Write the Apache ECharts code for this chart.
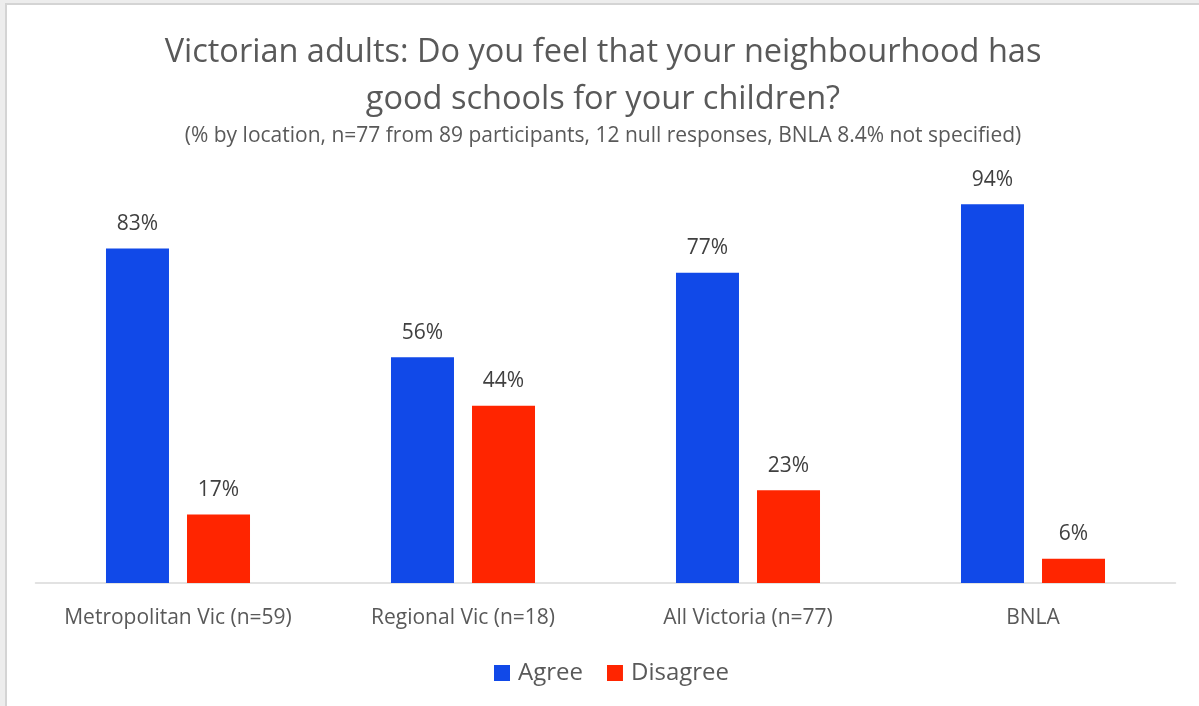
<!DOCTYPE html>
<html>
<head>
<meta charset="utf-8">
<script src="https://cdn.jsdelivr.net/npm/echarts@6/dist/echarts.min.js"></script>
<style>
  html, body { margin: 0; padding: 0; background: #ededed; overflow: hidden; }
  #frame {
    position: absolute; left: 5px; top: 3px;
    width: 1194px; height: 703px;
    border-left: 2px solid #d4d4d4; border-top: 2px solid #d4d4d4;
    background: #ffffff; box-sizing: border-box;
  }
  #chart { width: 1192px; height: 701px; }
</style>
</head>
<body>
<div id="frame"><div id="chart"></div></div>
<script>
// Survey responses by location (percent)
const categories = ['Metropolitan Vic (n=59)', 'Regional Vic (n=18)', 'All Victoria (n=77)', 'BNLA'];
const agree = [83, 56, 77, 94];
const disagree = [17, 44, 23, 6];

const titleText = 'Victorian adults: Do you feel that your neighbourhood has\ngood schools for your children?';
const subtitleText = '(% by location, n=77 from 89 participants, 12 null responses, BNLA 8.4% not specified)';

const FONT = '"Open Sans", "Noto Sans", sans-serif';

const chart = echarts.init(document.getElementById('chart'), null, { renderer: 'canvas' });

const valueLabel = {
  show: true,
  position: 'top',
  distance: 14,
  formatter: p => p.value + '%',
  color: '#404040',
  fontSize: 21,
  fontFamily: FONT
};

chart.setOption({
  backgroundColor: '#ffffff',
  animation: false,
  title: [
    {
      text: titleText,
      left: 'center',
      top: 19,
      textStyle: { color: '#595959', fontSize: 32.5, fontWeight: 'normal', fontFamily: FONT, lineHeight: 47 }
    },
    {
      text: subtitleText,
      left: 'center',
      top: 114,
      textStyle: { color: '#595959', fontSize: 21, fontWeight: 'normal', fontFamily: FONT, lineHeight: 24 }
    }
  ],
  legend: {
    top: 651,
    left: 482,
    itemWidth: 16,
    itemHeight: 16,
    itemGap: 24,
    icon: 'rect',
    textStyle: { color: '#595959', fontSize: 24, fontFamily: FONT, padding: [0, 0, 0, 3] }
  },
  grid: { left: 28.5, right: 23.5, top: 175, bottom: 123, containLabel: false },
  xAxis: {
    type: 'category',
    data: categories,
    axisTick: { show: false },
    axisLine: { lineStyle: { color: '#d9d9d9', width: 1.5 } },
    axisLabel: { color: '#595959', fontSize: 21, fontFamily: FONT, margin: 25, interval: 0 }
  },
  yAxis: {
    type: 'value',
    min: 0,
    max: 100,
    show: false,
    splitLine: { show: false }
  },
  series: [
    {
      name: 'Agree', type: 'bar', data: agree,
      itemStyle: { color: '#1149E8' },
      barWidth: 63, barGap: '28.6%',
      label: valueLabel
    },
    {
      name: 'Disagree', type: 'bar', data: disagree,
      itemStyle: { color: '#FF2500' },
      barWidth: 63,
      label: valueLabel
    }
  ]
});
</script>
</body>
</html>
